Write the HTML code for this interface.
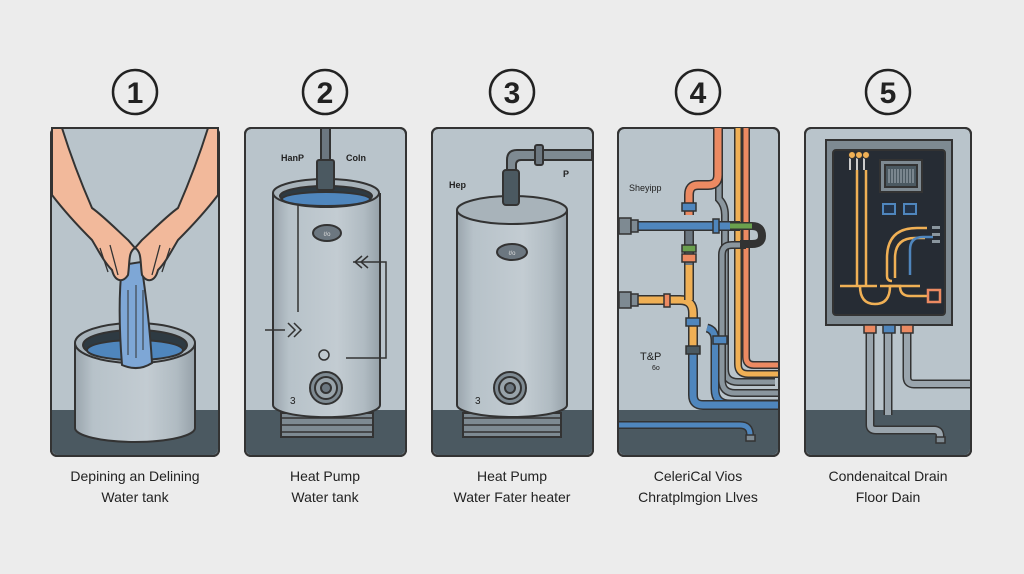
<!DOCTYPE html>
<html><head><meta charset="utf-8"><style>
html,body{margin:0;padding:0;background:#ececec;}
svg{display:block}
text{font-family:"Liberation Sans",sans-serif;}
</style></head><body>
<svg width="1024" height="574" viewBox="0 0 1024 574" xmlns="http://www.w3.org/2000/svg">
<rect width="1024" height="574" fill="#ececec"/>
<defs>
<linearGradient id="tk" x1="0" x2="1"><stop offset="0" stop-color="#9aa5ad"/><stop offset="0.15" stop-color="#b7c2c9"/><stop offset="0.6" stop-color="#c3ccd2"/><stop offset="0.85" stop-color="#b0bbc2"/><stop offset="1" stop-color="#96a1a9"/></linearGradient>
</defs>
<g fill="none" stroke="#222" stroke-width="2.5">
<circle cx="135" cy="92" r="22"/><circle cx="325" cy="92" r="22"/><circle cx="512" cy="92" r="22"/><circle cx="698" cy="92" r="22"/><circle cx="888" cy="92" r="22"/>
</g>
<g font-size="30" font-weight="bold" fill="#222" text-anchor="middle">
<text x="135" y="103">1</text><text x="325" y="103">2</text><text x="512" y="103">3</text><text x="698" y="103">4</text><text x="888" y="103">5</text>
</g>
<g stroke="#333" stroke-width="2">
<rect x="51" y="128" width="168" height="328" rx="6" fill="#b9c4cb"/>
<rect x="245" y="128" width="161" height="328" rx="6" fill="#b9c4cb"/>
<rect x="432" y="128" width="161" height="328" rx="6" fill="#b9c4cb"/>
<rect x="618" y="128" width="161" height="328" rx="6" fill="#b9c4cb"/>
<rect x="805" y="128" width="166" height="328" rx="6" fill="#b9c4cb"/>
</g>
<g fill="#4b5961">
<path d="M52 410H218V449a6 6 0 0 1-6 6H58a6 6 0 0 1-6-6Z"/>
<path d="M246 410H405V449a6 6 0 0 1-6 6H252a6 6 0 0 1-6-6Z"/>
<path d="M433 410H592V449a6 6 0 0 1-6 6H439a6 6 0 0 1-6-6Z"/>
<path d="M619 410H778V449a6 6 0 0 1-6 6H625a6 6 0 0 1-6-6Z"/>
<path d="M806 410H970V449a6 6 0 0 1-6 6H812a6 6 0 0 1-6-6Z"/>
</g>
<g fill="none" stroke="#333" stroke-width="2">
<rect x="51" y="128" width="168" height="328" rx="6"/><rect x="245" y="128" width="161" height="328" rx="6"/><rect x="432" y="128" width="161" height="328" rx="6"/><rect x="618" y="128" width="161" height="328" rx="6"/><rect x="805" y="128" width="166" height="328" rx="6"/>
</g>

<!-- Panel 1 -->
<g stroke="#333" stroke-width="2">
<path d="M75 343V428a60 14 0 0 0 120 0V343" fill="url(#tk)"/>
<ellipse cx="135" cy="343" rx="60" ry="20" fill="#a8b3ba"/>
<ellipse cx="135" cy="345" rx="52" ry="15" fill="#2e3a42"/>
<ellipse cx="135" cy="350" rx="48" ry="10" fill="#4f86bd"/>
<path d="M122 265C118 300 120 340 122 365Q138 372 152 363C150 330 146 295 141 262Z" fill="#7ea7d6"/>
<path d="M128 290V355M136 285V358M143 290V350" stroke-width="1"/>
<path d="M52 195V128H62C72 160 82 185 92 208C102 215 115 228 128 240L135 248C128 252 130 262 128 275C123 283 115 282 112 270C104 262 98 250 92 240C80 228 65 212 52 195Z" fill="#f2b99b"/>
<path d="M218 195V128H208C198 160 188 185 178 208C168 215 155 228 142 240L135 248C142 252 140 262 142 275C147 283 155 282 158 270C166 262 172 250 178 240C190 228 205 212 218 195Z" fill="#f2b99b"/>
<path d="M110 245L118 275M100 248L108 272M160 245L152 275M170 248L162 272" stroke-width="1.3" fill="none"/>
</g>

<!-- Panel 2 -->
<g stroke="#333" stroke-width="2">
<path d="M281 413h92v24h-92z" fill="#7e8a92"/>
<path d="M281 418h92M281 425h92M281 432h92" stroke-width="1.5"/>
<path d="M273 193V405a53 12 0 0 0 107 0V193" fill="url(#tk)"/>
<ellipse cx="326" cy="193" rx="53" ry="14" fill="#a8b3ba"/>
<ellipse cx="326" cy="196" rx="46" ry="10" fill="#2e3a42"/>
<ellipse cx="326" cy="199" rx="44" ry="7" fill="#4f86bd"/>
<rect x="321" y="128" width="9" height="40" fill="#6c7780"/>
<rect x="317" y="160" width="17" height="30" rx="2" fill="#4b5961"/>
<ellipse cx="327" cy="233" rx="14" ry="8" fill="#6c7780"/>
<circle cx="326" cy="388" r="16" fill="#7e8a92"/><circle cx="326" cy="388" r="11" fill="#98a3aa"/><circle cx="326" cy="388" r="5" fill="#6c7780"/>
<path d="M298 205V312M265 330h20M353 262h33V358h-40" fill="none" stroke-width="1.5"/>
<path d="M288 323l7 7-7 7M294 323l7 7-7 7M362 256l-7 6 7 6M368 256l-7 6 7 6" fill="none" stroke-width="1.5"/>
<circle cx="324" cy="355" r="5" fill="none" stroke-width="1.5"/>
</g>
<text x="281" y="161" font-size="9" font-weight="bold" fill="#222">HanP</text>
<text x="346" y="161" font-size="9" font-weight="bold" fill="#222">Coln</text>
<text x="290" y="404" font-size="10" fill="#222">3</text>
<text x="327" y="236" font-size="6" fill="#ddd" text-anchor="middle">ℓ/o</text>

<!-- Panel 3 -->
<g stroke="#333" stroke-width="2">
<path d="M463 413h98v24h-98z" fill="#7e8a92"/>
<path d="M463 418h98M463 425h98M463 432h98" stroke-width="1.5"/>
<path d="M457 210V405a55 12 0 0 0 110 0V210" fill="url(#tk)"/>
<ellipse cx="512" cy="210" rx="55" ry="14" fill="#a8b3ba"/>
<path d="M507 200V160q0-10 10-10H592V160H521q-5 0-5 5V200Z" fill="#7e8a92"/>
<rect x="535" y="145" width="8" height="20" rx="2" fill="#6c7780"/>
<rect x="503" y="170" width="16" height="35" rx="3" fill="#4b5961"/>
<ellipse cx="512" cy="252" rx="15" ry="8" fill="#6c7780"/>
<circle cx="510" cy="388" r="16" fill="#7e8a92"/><circle cx="510" cy="388" r="11" fill="#98a3aa"/><circle cx="510" cy="388" r="5" fill="#6c7780"/>
</g>
<text x="449" y="188" font-size="9" font-weight="bold" fill="#222">Hep</text>
<text x="563" y="177" font-size="9" font-weight="bold" fill="#222">P</text>
<text x="475" y="404" font-size="10" fill="#222">3</text>
<text x="512" y="255" font-size="6" fill="#ddd" text-anchor="middle">ℓ/o</text>

<!-- Panel 4 pipes -->
<g fill="none" stroke-linecap="butt">
<path d="M775 382H738q-13 0-13-13V215q0-10-6-16V128" stroke="#333" stroke-width="8"/>
<path d="M775 382H738q-13 0-13-13V215q0-10-6-16V128" stroke="#8a969e" stroke-width="5"/>
<path d="M778 374H748q-10 0-10-10V128" stroke="#333" stroke-width="8"/>
<path d="M778 374H748q-10 0-10-10V128" stroke="#f0b055" stroke-width="5"/>
<path d="M778 365H754q-8 0-8-8V128" stroke="#333" stroke-width="8"/>
<path d="M778 365H754q-8 0-8-8V128" stroke="#ec8a62" stroke-width="5"/>
<path d="M778 393H735q-13 0-13-13V255q0-10 10-10h14" stroke="#333" stroke-width="8"/>
<path d="M778 393H735q-13 0-13-13V255q0-10 10-10h14" stroke="#8a969e" stroke-width="5"/>
<path d="M778 404H730q-15 0-15-15V340q0-10-8-12" stroke="#333" stroke-width="9"/>
<path d="M778 404H730q-15 0-15-15V340q0-10-8-12" stroke="#4f86bd" stroke-width="6"/>
<path d="M718 128V175q0 10-10 10h-10q-9 0-9 10V215" stroke="#333" stroke-width="10"/>
<path d="M718 128V175q0 10-10 10h-10q-9 0-9 10V215" stroke="#ec8a62" stroke-width="7"/>
<path d="M689 225V265" stroke="#333" stroke-width="10"/><path d="M689 225V265" stroke="#6c7780" stroke-width="7"/>
<path d="M627 300H680q13 0 13 13V350" stroke="#333" stroke-width="10"/>
<path d="M627 300H680q13 0 13 13V350" stroke="#f0b055" stroke-width="7"/>
<path d="M689 265V300" stroke="#333" stroke-width="10"/><path d="M689 265V300" stroke="#f0b055" stroke-width="7"/>
<path d="M627 226H740" stroke="#333" stroke-width="10"/><path d="M627 226H740" stroke="#4f86bd" stroke-width="7"/>
<path d="M740 226H752q10 0 10 10q0 8-10 8H740" stroke="#333" stroke-width="8"/>
<path d="M730 226H752" stroke="#333" stroke-width="8"/><path d="M730 226H752" stroke="#6aa04e" stroke-width="5"/>
<path d="M693 350V395q0 10 10 10h75" stroke="#333" stroke-width="10"/>
<path d="M693 350V395q0 10 10 10h75" stroke="#4f86bd" stroke-width="7"/>
<path d="M619 425H740q10 0 10 10v5" stroke="#333" stroke-width="8"/>
<path d="M619 425H740q10 0 10 10v5" stroke="#4f86bd" stroke-width="5"/>
</g>
<g stroke="#333" stroke-width="1.5">
<rect x="619" y="218" width="12" height="16" fill="#7e8a92"/><rect x="631" y="220" width="7" height="12" fill="#7e8a92"/>
<rect x="619" y="292" width="12" height="16" fill="#7e8a92"/><rect x="631" y="294" width="7" height="12" fill="#7e8a92"/>
<rect x="682" y="203" width="14" height="8" fill="#4f86bd"/>
<rect x="682" y="245" width="14" height="7" fill="#6aa04e"/>
<rect x="682" y="254" width="14" height="8" fill="#ec8a62"/>
<rect x="664" y="294" width="6" height="13" fill="#ec8a62"/>
<rect x="713" y="219" width="6" height="14" fill="#4f86bd"/>
<rect x="686" y="318" width="14" height="8" fill="#4f86bd"/>
<rect x="686" y="346" width="14" height="8" fill="#4b5961"/>
<rect x="713" y="336" width="14" height="8" fill="#4f86bd"/>
<rect x="746" y="435" width="9" height="6" fill="#7e8a92"/>
</g>
<text x="629" y="191" font-size="9" fill="#222">Sheyipp</text>
<text x="640" y="360" font-size="11" fill="#222">T&amp;P</text>
<text x="652" y="370" font-size="7" fill="#222">6o</text>

<!-- Panel 5 -->
<g stroke="#333" stroke-width="2">
<rect x="826" y="140" width="126" height="185" fill="#7e8a92"/>
<rect x="833" y="150" width="112" height="165" rx="3" fill="#262c34"/>
<rect x="880" y="160" width="42" height="32" fill="#7e8a92"/>
<rect x="885" y="165" width="32" height="22" fill="#4b5961"/>
<rect x="883" y="204" width="12" height="10" fill="#23344a" stroke="#4f86bd"/>
<rect x="904" y="204" width="12" height="10" fill="#23344a" stroke="#4f86bd"/>
</g>
<g stroke="#9aa5ad" stroke-width="1.2"><path d="M889 169v14M892 169v14M895 169v14M898 169v14M901 169v14M904 169v14M907 169v14M910 169v14M913 169v14"/></g>
<g fill="none" stroke-width="2.5">
<path d="M857 170V285M866 170V285" stroke="#f0b055"/>
<path d="M877 286H840" stroke="#f0b055"/>
<path d="M927 228h-10q-30 0-30 30v18q0 5 5 5" stroke="#f0b055"/>
<path d="M925 238h-10q-20 0-20 20v20" stroke="#f0b055"/>
<path d="M933 237h-10q-13 0-13 13v25" stroke="#4f86bd"/>
<path d="M860 286q0 18 15 18t15-18h10q0 10 10 10h18" stroke="#f0b055"/>
<path d="M880 286h40" stroke="#f0b055"/>
<rect x="928" y="290" width="12" height="12" stroke="#ec8a62"/>
<path d="M850 158V170M857 158V170M864 158V170" stroke="#ccc" stroke-width="2"/>
</g>
<g fill="#f0b055" stroke="#333"><circle cx="852" cy="155" r="3.5"/><circle cx="859" cy="155" r="3.5"/><circle cx="866" cy="155" r="3.5"/></g>
<g fill="#8a969e"><rect x="932" y="226" width="8" height="3"/><rect x="932" y="233" width="8" height="3"/><rect x="932" y="240" width="8" height="3"/></g>
<g fill="none" stroke-linecap="butt">
<path d="M870 330V425q0 5 6 5H896" stroke="#333" stroke-width="9"/>
<path d="M870 330V425q0 5 6 5H896" stroke="#9aa5ad" stroke-width="6"/>
<path d="M888 330V415" stroke="#333" stroke-width="9"/><path d="M888 330V415" stroke="#9aa5ad" stroke-width="6"/>
<path d="M907 330V377q0 7 7 7H970" stroke="#333" stroke-width="9"/>
<path d="M907 330V377q0 7 7 7H970" stroke="#9aa5ad" stroke-width="6"/>
<path d="M890 430H934q6 0 6 6v4" stroke="#333" stroke-width="9"/>
<path d="M890 430H934q6 0 6 6v4" stroke="#9aa5ad" stroke-width="6"/>
</g>
<g stroke="#333" stroke-width="1.5">
<rect x="864" y="325" width="12" height="8" fill="#ec8a62"/><rect x="883" y="325" width="12" height="8" fill="#4f86bd"/><rect x="901" y="325" width="12" height="8" fill="#ec8a62"/>
<rect x="936" y="437" width="9" height="6" fill="#7e8a92"/>
</g>

<g font-size="14" fill="#222" text-anchor="middle">
<text x="135" y="481">Depining an Delining</text><text x="135" y="502">Water tank</text>
<text x="325" y="481">Heat Pump</text><text x="325" y="502">Water tank</text>
<text x="512" y="481">Heat Pump</text><text x="512" y="502">Water Fater heater</text>
<text x="698" y="481">CeleriCal Vios</text><text x="698" y="502">Chratplmgion Llves</text>
<text x="888" y="481">Condenaitcal Drain</text><text x="888" y="502">Floor Dain</text>
</g>
</svg>
</body></html>
